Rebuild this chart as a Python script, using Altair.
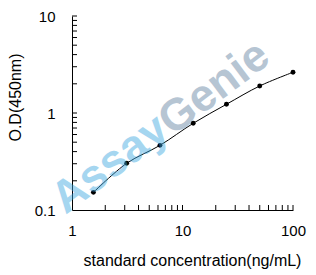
import altair as alt
import pandas as pd

conc = [1.5625, 3.125, 6.25, 12.5, 25, 50, 100]
od = [0.152, 0.303, 0.464, 0.783, 1.23, 1.90, 2.63]

x_labels = [1, 10, 100]
y_labels = [0.1, 1, 10]
x_minor = [2, 3, 4, 5, 6, 7, 8, 9, 10, 20, 30, 40, 50, 60, 70, 80, 90, 100]
y_minor = [0.2, 0.3, 0.4, 0.5, 0.6, 0.7, 0.8, 0.9, 1, 2, 3, 4, 5, 6, 7, 8, 9, 10]

watermark = ["Assay", "Genie"]

W, H = 221, 194
FONT = "Liberation Sans"

df = pd.DataFrame({"conc": conc, "od": od})
xs = alt.Scale(type="log", domain=[1, 100], nice=False)
ys = alt.Scale(type="log", domain=[0.1, 10], nice=False)

x_enc = alt.X("conc:Q", scale=xs, axis=alt.Axis(
    values=x_labels, format="d", title="standard concentration(ng/mL)",
    grid=False, ticks=False, tickSize=0, domainColor="black", domainWidth=1,
    labelFont=FONT, labelFontSize=15, labelColor="black", labelPadding=13,
    labelFlush=False,
    titleFont=FONT, titleFontSize=16, titleFontWeight="normal", titleColor="black",
    titleX=120, titleY=50, titleAlign="center", titleBaseline="middle"))
y_enc = alt.Y("od:Q", scale=ys, axis=alt.Axis(
    values=y_labels, title="O.D(450nm)", labelExpr="datum.value >= 1 ? format(datum.value, 'd') : format(datum.value, '.1f')",
    grid=False, ticks=False, tickSize=0, domainColor="black", domainWidth=1,
    labelFont=FONT, labelFontSize=15, labelColor="black", labelPadding=17,
    labelFlush=False,
    titleFont=FONT, titleFontSize=16, titleFontWeight="normal", titleColor="black",
    titleX=-57, titleY=81, titleAlign="center", titleBaseline="middle", titleAngle=270))

line = alt.Chart(df).mark_line(color="black", strokeWidth=1, interpolate="catmull-rom").encode(x=x_enc, y=y_enc)
pts = alt.Chart(df).mark_point(filled=True, color="black", size=24, opacity=1).encode(x="conc:Q", y="od:Q")

xt = alt.Chart(pd.DataFrame({"conc": x_minor})).mark_rule(color="black", strokeWidth=1).encode(
    x=alt.X("conc:Q", scale=xs), y=alt.value(H), y2=alt.value(H - 5))
yt = alt.Chart(pd.DataFrame({"od": y_minor})).mark_rule(color="black", strokeWidth=1).encode(
    y=alt.Y("od:Q", scale=ys), x=alt.value(0), x2=alt.value(5))

wm_df = pd.DataFrame({"label": watermark})
wm1 = alt.Chart(wm_df).transform_filter(alt.datum.label == "Assay").mark_text(
    font=FONT, fontSize=45, fontWeight="bold", angle=323, color="#3aa6e0", opacity=0.45,
    align="center", baseline="middle").encode(text="label:N", x=alt.value(38), y=alt.value(148))
wm2 = alt.Chart(wm_df).transform_filter(alt.datum.label == "Genie").mark_text(
    font=FONT, fontSize=45, fontWeight="bold", angle=323, color="#5f7f9f", opacity=0.45,
    align="center", baseline="middle").encode(text="label:N", x=alt.value(142), y=alt.value(72))

chart = alt.layer(line, pts, xt, yt, wm1, wm2).properties(
    width=W, height=H,
    autosize=alt.AutoSizeParams(type="none"),
    padding={"left": 72, "top": 16, "right": 23, "bottom": 65},
    background="white",
).configure_view(stroke=None)

chart.save("out.html", embed_options={"renderer": "svg", "actions": False})
